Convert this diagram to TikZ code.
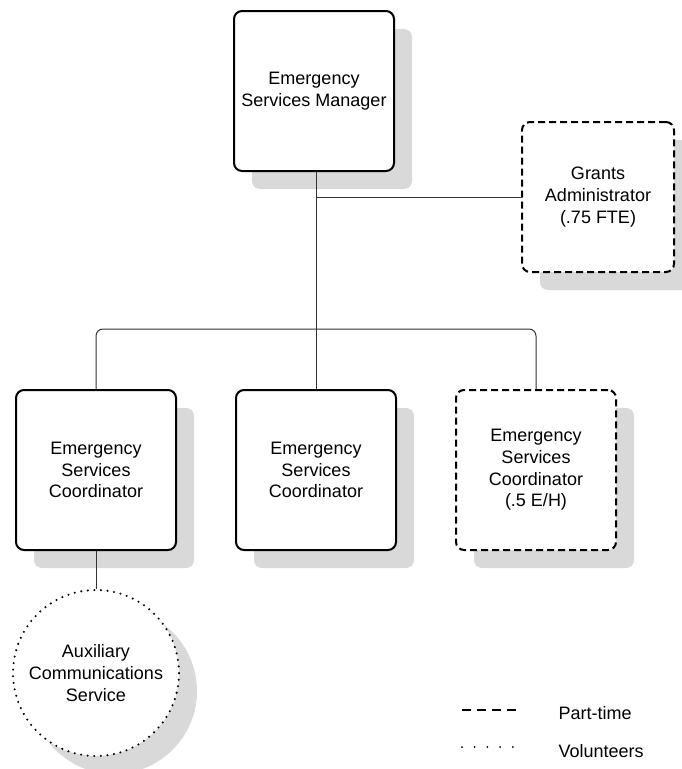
\documentclass[tikz,border=0pt]{standalone}
\usepackage{fontspec}
\setmainfont{Liberation Sans}
\usetikzlibrary{positioning, shadows}

\begin{document}
\begin{tikzpicture} [x=1pt, y=-1pt, node distance = 220pt, on grid,
   font=\fontsize{18}{21.7}\selectfont,
   staffbox/.style={rectangle, rounded corners=8pt, draw, line width=2pt, fill=white,
      minimum width=160pt, minimum height=160pt, inner sep=0pt, align=center,
      drop shadow={shadow xshift=18pt, shadow yshift=-18pt, fill=black!15, opacity=1}},
   partbox/.style={staffbox, dash pattern=on 7pt off 4pt},
   volunbox/.style={circle, draw, line width=2.3pt, dash pattern=on 0pt off 6.6pt, line cap=round,
      fill=white, minimum size=166pt, inner sep=0pt, align=center,
      drop shadow={shadow xshift=18pt, shadow yshift=-18pt, fill=black!15, opacity=1}},
   link/.style={line width=1pt, black!80}]
   \useasboundingbox (0,0) rectangle (682,769);

   \node (mgr)[staffbox] at (314,91) {Emergency\\Services Manager};
   \node (grants)[partbox, minimum width=152pt, minimum height=150pt,
      below right=106pt and 284pt of mgr] {Grants\\Administrator\\(.75 FTE)};
   \node (coord2)[staffbox, below=379pt of mgr, xshift=2pt] {Emergency\\Services\\Coordinator};
   \node (coord1)[staffbox, left=of coord2] {Emergency\\Services\\Coordinator};
   \node (coord3)[partbox, right=of coord2] {Emergency\\Services\\Coordinator\\(.5 E/H)};
   \node (aux)[volunbox, below=203pt of coord1] {Auxiliary\\Communications\\Service};

   \coordinate (bus) at (316,329);
   \coordinate (tee) at (316,197);
   \draw[link] (tee |- mgr.south) -- (coord2);
   \draw[link] (tee) -- (grants);
   \draw[link, rounded corners=7pt] (coord1) |- (bus) -| (coord3);
   \draw[link] (coord1) -- (aux);

   \node (ptlabel)[anchor=west] at (555,713) {Part-time};
   \node (vollabel)[anchor=west] at (555,751) {Volunteers};
   \coordinate (pt0) at (462,710);
   \coordinate (vol0) at (462,747);
   \draw[line width=2pt, dash pattern=on 9pt off 6pt] (pt0) -- ++(54,0);
   \draw[line width=2pt, line cap=round, dash pattern=on 0pt off 12.7pt] (vol0) -- ++(51,0);
\end{tikzpicture}
\end{document}
